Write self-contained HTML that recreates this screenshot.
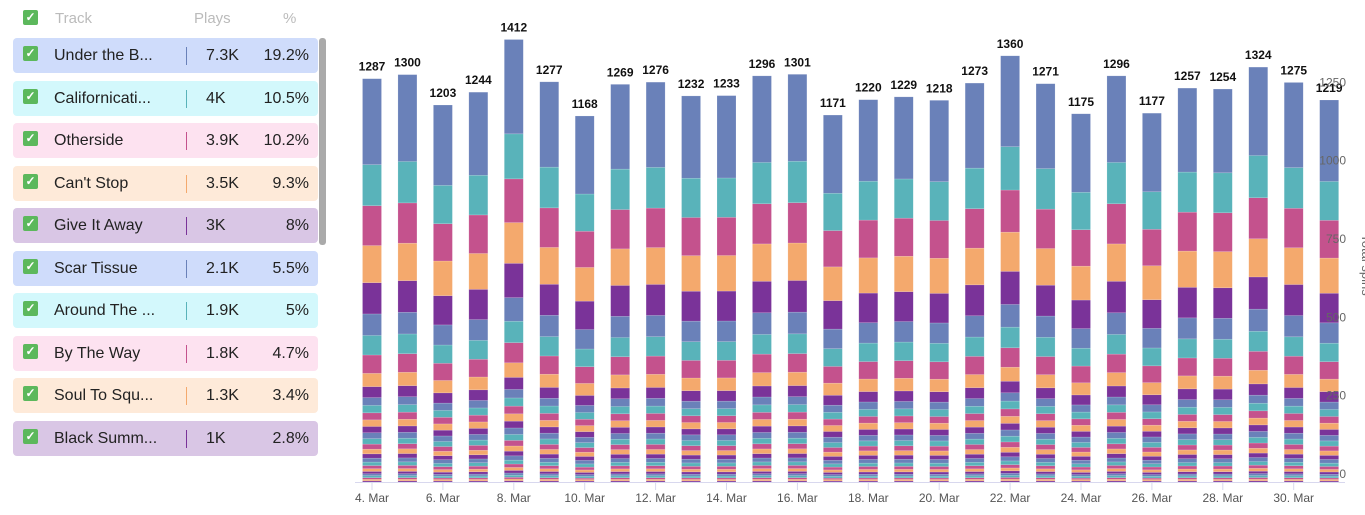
<!DOCTYPE html>
<html><head><meta charset="utf-8"><style>
body{margin:0;width:1365px;height:515px;background:#fff;font-family:"Liberation Sans",sans-serif;overflow:hidden;position:relative}
.hdr{position:absolute;top:10px;font-size:15px;color:#bbb}
.cb{position:absolute;width:15px;height:15px;background:#5cb85c;border-radius:2px;color:#fff;font-size:12px;line-height:15px;text-align:center;font-weight:bold}
.row{position:absolute;left:13px;width:305px;height:35px;border-radius:4px;font-size:16px;color:#222}
.row span{position:absolute;top:9px}
.sep{position:absolute;left:173px;top:9px;width:1px;height:18px}
</style></head><body>
<div class="cb" style="left:23px;top:10px">✓</div>
<div class="hdr" style="left:55px">Track</div>
<div class="hdr" style="left:194px">Plays</div>
<div class="hdr" style="left:283px">%</div>
<div style="position:absolute;left:319px;top:38px;width:7px;height:207px;background:#aaa;border-radius:3px"></div>
<div id="legend"></div>
<svg id="chart" width="1365" height="515" style="position:absolute;left:0;top:0"></svg>
<script>
const names=["Under the B...","Californicati...","Otherside","Can't Stop","Give It Away","Scar Tissue","Around The ...","By The Way","Soul To Squ...","Black Summ..."];
const plays=["7.3K","4K","3.9K","3.5K","3K","2.1K","1.9K","1.8K","1.3K","1K"];
const pcts=["19.2%","10.5%","10.2%","9.3%","8%","5.5%","5%","4.7%","3.4%","2.8%"];
const days=["4","5","6","7","8","9","10","11","12","13","14","15","16","17","18","19","20","21","22","23","24","25","26","27","28","29","30","31"];
const totals=[1287,1300,1203,1244,1412,1277,1168,1269,1276,1232,1233,1296,1301,1171,1220,1229,1218,1273,1360,1271,1175,1296,1177,1257,1254,1324,1275,1219];
const shares=[22,10.5,10.2,9.5,8,5.5,5,4.7,3.4,2.8,2.0,1.9,1.8,1.7,1.6,1.5,1.4,1.3,1.2,1.1,1.0,0.9,0.8,0.7,0.6,0.5,0.5,0.4,0.4,0.3];
const yTicks=[0,250,500,750,1000,1250];
const cols=["#6a81b9","#59b3ba","#c4528d","#f4a96d","#7a3399"];
const bgs=["#cfdcfb","#d3f8fc","#fde2f0","#feead9","#d9c6e5"];
const lg=document.getElementById('legend');
names.forEach((n,i)=>{const r=document.createElement('div');r.className='row';


r.style.top=(38+i*42.5)+'px';r.style.background=bgs[i%5];
r.innerHTML='<div class="cb" style="left:10px;top:8px">✓</div><span style="left:41px">'+n+'</span><div class="sep" style="background:'+cols[i%5]+'"></div><span style="left:193px">'+plays[i]+'</span><span style="right:9px">'+pcts[i]+'</span>';
lg.appendChild(r);});
const svg=document.getElementById('chart');const NS='http://www.w3.org/2000/svg';
const base=482,k=382/1219,x0=372,step=35.45,bw=19;
const y=v=>base-v*k, x=i=>x0+i*step;
const ssum=shares.reduce((a,b)=>a+b,0);
function el(t,a,txt){const e=document.createElementNS(NS,t);for(const q in a)e.setAttribute(q,a[q]);if(txt!=null)e.textContent=txt;svg.appendChild(e);return e;}
const ax=el('line',{x1:355,x2:1345,y1:base+0.5,y2:base+0.5,stroke:'#d8d8ee'});


totals.forEach((t,i)=>{let acc=0;
for(let s=shares.length-1;s>=0;s--){const v=t*shares[s]/ssum;
const r=el('rect',{x:x(i)-bw/2,y:y(acc+v),width:bw,height:v*k,fill:cols[s%5],stroke:'rgba(255,255,255,0.3)','stroke-width':0.5});


acc+=v;}
const l=el('text',{x:x(i),y:y(t)-8,'text-anchor':'middle','font-size':12,'font-weight':'bold',fill:'#111'},t);


if(i%2==0){el('line',{x1:x(i),x2:x(i),y1:base,y2:base+8,stroke:'#d8d8ee'});
const tl=el('text',{x:x(i),y:base+20,'text-anchor':'middle','font-size':12,fill:'#555'},days[i]+'. Mar');

}
});
yTicks.forEach(v=>{const t=el('text',{x:1346,y:y(v)-4,'text-anchor':'end','font-size':12,fill:'#666'},v);

});
const yt=el('text',{x:1362,y:265,'font-size':13,fill:'#666','text-anchor':'middle',transform:'rotate(90 1362 265)'},'Total spins');


</script></body></html>
